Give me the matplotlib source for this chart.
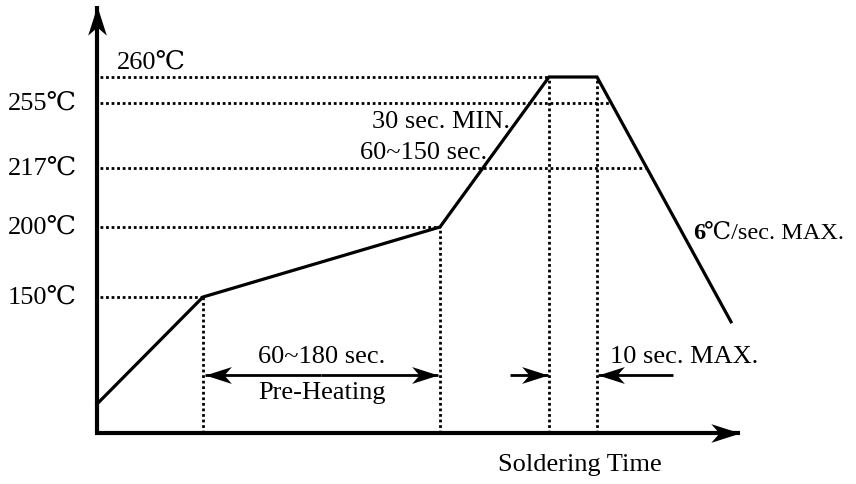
import numpy as np
import matplotlib.pyplot as plt
from matplotlib.path import Path
from matplotlib.markers import MarkerStyle
from matplotlib.transforms import Affine2D

# reflow profile, schematic time (s) and temperature (deg C)
profile_time = [0, 53, 171.5, 226, 250, 317]
profile_temp = [25, 150, 200, 260, 260, 121]

# horizontal reference levels
level_temp = [260, 255, 217, 200, 150]
level_label = ['260℃', '255℃', '217℃', '200℃', '150℃']
level_end = [226, 256, 274, 171.5, 53]

# vertical markers
mark_time = [53, 171.5, 226, 250]
mark_temp = [150, 200, 260, 260]

# the temperature axis is schematic, not linear
scale_temp = [-200, 25, 150, 200, 217, 255, 260, 500]
scale_pos = [-163.6, 29, 136, 206, 265, 330, 356, 1604]


def forward(t):
    return np.interp(t, scale_temp, scale_pos)


def inverse(p):
    return np.interp(p, scale_pos, scale_temp)


# concave arrow head, tip at the origin pointing right
head_path = Path([(0, 0), (-1, 0.32), (-0.72, 0), (-1, -0.32), (0, 0)],
                 [Path.MOVETO, Path.LINETO, Path.LINETO, Path.LINETO, Path.CLOSEPOLY])


def arrow(ax, x0, y0, x1, y1, angle, lw, size=40):
    ax.plot([x0, x1], [y0, y1], color='black', lw=lw, solid_capstyle='butt')
    m = MarkerStyle(head_path, transform=Affine2D().rotate_deg(angle))
    ax.plot([x1], [y1], marker=m, ms=size, color='black', mew=0, linestyle='none')


font = dict(family=['Liberation Serif', 'DejaVu Serif', 'Noto Sans CJK TC'], fontsize=19,
            color='black')
dots = dict(color='black', lw=2, linestyle=(0, (1, 1)))

fig = plt.figure(figsize=(8.56, 4.85), dpi=100)
ax = fig.add_axes([0, 0, 1, 1])
ax.set_yscale('function', functions=(forward, inverse))
ax.set_xlim(-48.5, 379.5)
ax.set_ylim(inverse(-51), inverse(434))
ax.axis('off')

base = float(inverse(0))

# dotted guides
for temp, end in zip(level_temp, level_end):
    ax.plot([1.5, end], [temp, temp], **dots)
for t, temp in zip(mark_time, mark_temp):
    ax.plot([t, t], [base, temp], **dots)

# profile
ax.plot(profile_time, profile_temp, color='black', lw=2.3, solid_joinstyle='miter')

# axes with arrows
arrow(ax, 0, base, 0, float(inverse(427)), 90, 3, 42)
arrow(ax, -1, base, 321.5, base, 0, 3, 42)

# temperature labels
for temp, lab in zip(level_temp, level_label):
    if temp == 260:
        ax.annotate(lab, xy=(10, temp), xytext=(0, 11), textcoords='offset points',
                    ha='left', va='center', **font)
    else:
        ax.text(-10, temp, lab, ha='right', va='center', **font)

ax.text(206.5, 244.5, '30 sec. MIN.', ha='right', va='center', **font)
ax.text(195, 226.4, '60~150 sec.', ha='right', va='center', **font)

small = dict(font, fontsize=17.5)
ax.text(298, 196.4, '6', ha='left', va='center', fontweight='bold', **small)
ax.text(303.5, 196.4, '℃/sec. MAX.', ha='left', va='center', **small)

# time spans
arrow(ax, 112, 59, 54, 59, 180, 2, 38)
arrow(ax, 112, 59, 170.5, 59, 0, 2, 38)
ax.text(112.5, 81, '60~180 sec.', ha='center', va='center', **font)
ax.text(112.5, 39, 'Pre-Heating', ha='center', va='center', **font)

arrow(ax, 206.5, 59, 225.5, 59, 0, 2, 38)
arrow(ax, 288, 59, 250.5, 59, 180, 2, 38)
ax.text(256.5, 81, '10 sec. MAX.', ha='left', va='center', **font)

ax.text(241.5, -45, 'Soldering Time', ha='center', va='center', **font)

fig.savefig('out.png', dpi=100)
